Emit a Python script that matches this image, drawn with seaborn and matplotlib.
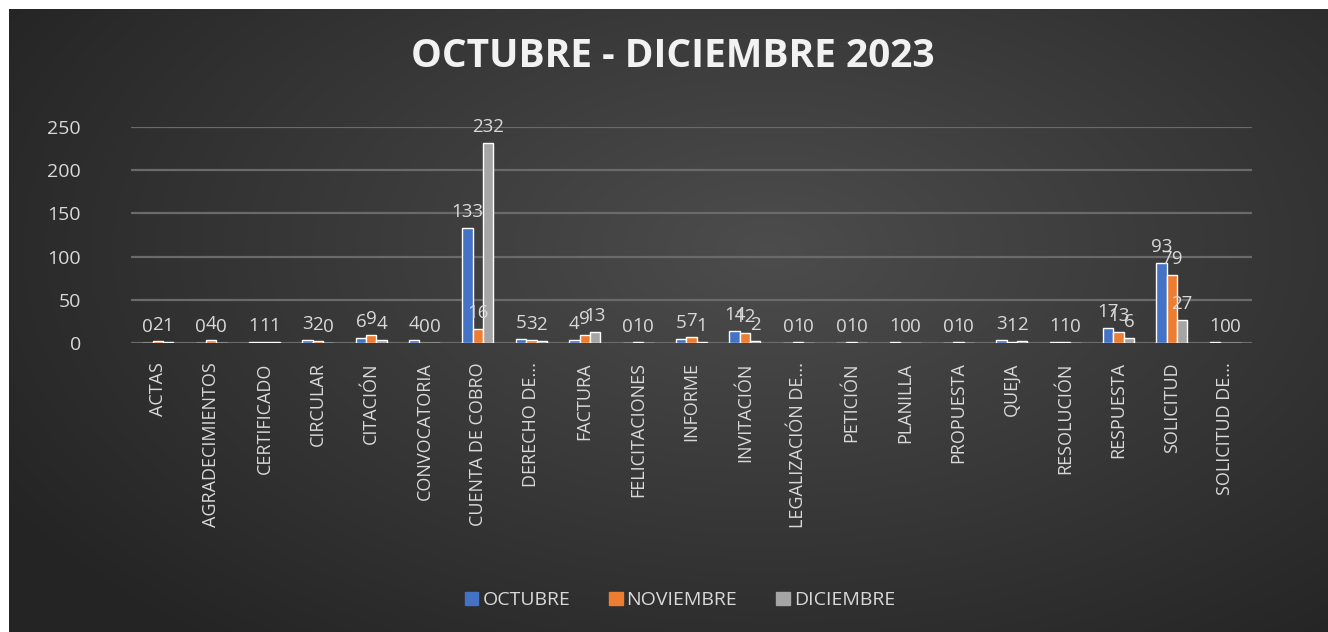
import numpy as np
import pandas as pd
import seaborn as sns
import matplotlib.pyplot as plt

# datos del reporte
tipos = ["ACTAS", "AGRADECIMIENTOS", "CERTIFICADO", "CIRCULAR", "CITACIÓN",
         "CONVOCATORIA", "CUENTA DE COBRO", "DERECHO DE...", "FACTURA",
         "FELICITACIONES", "INFORME", "INVITACIÓN", "LEGALIZACIÓN DE...",
         "PETICIÓN", "PLANILLA", "PROPUESTA", "QUEJA", "RESOLUCIÓN",
         "RESPUESTA", "SOLICITUD", "SOLICITUD DE..."]
octubre = [0, 0, 1, 3, 6, 4, 133, 5, 4, 0, 5, 14, 0, 0, 1, 0, 3, 1, 17, 93, 1]
noviembre = [2, 4, 1, 2, 9, 0, 16, 3, 9, 1, 7, 12, 1, 1, 0, 1, 1, 1, 13, 79, 0]
diciembre = [1, 0, 1, 0, 4, 0, 232, 2, 13, 0, 1, 2, 0, 0, 0, 0, 2, 0, 6, 27, 0]
meses = ["OCTUBRE", "NOVIEMBRE", "DICIEMBRE"]
colores = ["#4472C4", "#ED7D31", "#A5A5A5"]

df = pd.DataFrame({
    "tipo": tipos * 3,
    "mes": np.repeat(meses, len(tipos)),
    "cantidad": octubre + noviembre + diciembre,
})

sns.set_theme(style="dark")
plt.rcParams["font.family"] = ["Open Sans", "DejaVu Sans"]
txt = "#d9d9d9"

fig = plt.figure(figsize=(13.28, 6.32), dpi=100)
fig.patch.set_facecolor("white")

# fondo oscuro con degradado radial
bg = fig.add_axes([9 / 1328, 0, 1319 / 1328, 623 / 632])
yy, xx = np.mgrid[0:623, 0:1319]
d = np.sqrt(((xx - 760) / 880.0) ** 2 + ((yy - 240) / 500.0) ** 2)
d = np.clip(d, 0, 1)
c = 0.30 - 0.155 * d
bg.imshow(np.dstack([c, c, c]), aspect="auto", extent=[0, 1, 0, 1])
bg.axis("off")

ax = fig.add_axes([131 / 1328, 289 / 632, 1121 / 1328, 216 / 632])
ax.patch.set_alpha(0)
sns.barplot(data=df, x="tipo", y="cantidad", hue="mes", palette=colores,
            width=0.58, saturation=1, ax=ax, legend=False)
for cont in ax.containers:
    ax.bar_label(cont, padding=5, color=txt, fontsize=13.5, clip_on=False)

ax.set_ylim(0, 250)
ax.set_xlim(-0.5, len(tipos) - 0.5)
ax.set_yticks([0, 50, 100, 150, 200, 250])
ax.yaxis.grid(True, color="#6a6a6a", lw=1.6)
ax.xaxis.grid(False)
ax.set_axisbelow(True)
for s in ax.spines.values():
    s.set_visible(False)
ax.set_xlabel("")
ax.set_ylabel("")
ax.tick_params(axis="y", colors=txt, labelsize=14, pad=36, length=0)
ax.tick_params(axis="x", colors=txt, labelsize=13, pad=14, length=0)
plt.setp(ax.get_xticklabels(), rotation=90, ha="center", va="top")

fig.text(0.507, 0.91, "OCTUBRE - DICIEMBRE 2023", ha="center", va="center",
         fontsize=28, fontweight="bold", color="#f2f2f2")

handles = [plt.Rectangle((0, 0), 1, 1, color=c_) for c_ in colores]
fig.legend(handles, meses, loc="center", bbox_to_anchor=(0.512, 0.05), ncol=3,
           frameon=False, fontsize=14, labelcolor=txt, handlelength=0.7,
           handleheight=0.7, handletextpad=0.2, columnspacing=2.0)

fig.savefig("out.png", dpi=100)
